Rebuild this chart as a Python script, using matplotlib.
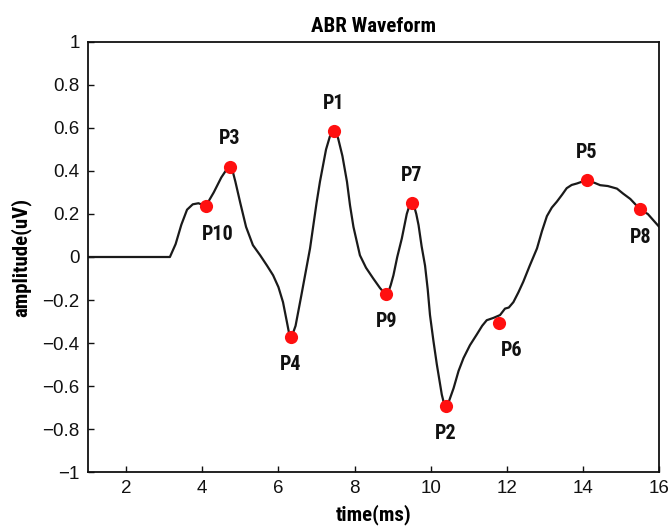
import matplotlib
matplotlib.use("Agg")
import matplotlib.pyplot as plt
from matplotlib import font_manager

# ABR waveform trace (time in ms, amplitude in uV)
time_ms = [1.0, 3.15, 3.3, 3.45, 3.6, 3.75, 3.9, 4.0, 4.09, 4.3, 4.5, 4.65, 4.73, 4.79,
           4.87, 5.0, 5.15, 5.33, 5.52, 5.7, 5.86, 6.0, 6.12, 6.22, 6.28, 6.32, 6.37,
           6.45, 6.6, 6.83, 7.0, 7.09, 7.25, 7.35, 7.42, 7.46, 7.51, 7.57, 7.68, 7.80,
           7.88, 7.97, 8.06, 8.14, 8.3, 8.49, 8.67, 8.76, 8.83, 8.89, 8.95, 9.02, 9.12,
           9.24, 9.37, 9.45, 9.50, 9.55, 9.62, 9.68, 9.76, 9.85, 9.92, 9.98, 10.07,
           10.16, 10.29, 10.35, 10.40, 10.45, 10.52, 10.6, 10.73, 10.86, 11.03, 11.21,
           11.35, 11.47, 11.65, 11.82, 11.95, 12.05, 12.17, 12.3, 12.43, 12.6, 12.79,
           12.92, 13.05, 13.18, 13.31, 13.45, 13.57, 13.7, 13.84, 14.0, 14.10, 14.3,
           14.45, 14.65, 14.89, 15.05, 15.24, 15.4, 15.5, 15.7, 15.85, 16.0]
amplitude_uv = [0.0, 0.0, 0.06, 0.15, 0.22, 0.245, 0.25, 0.243, 0.236, 0.30, 0.37,
                0.41, 0.42, 0.405, 0.35, 0.25, 0.14, 0.055, 0.008, -0.04, -0.085,
                -0.14, -0.21, -0.30, -0.355, -0.371, -0.36, -0.32, -0.18, 0.04, 0.25,
                0.35, 0.50, 0.56, 0.581, 0.585, 0.58, 0.55, 0.47, 0.35, 0.24, 0.14,
                0.07, 0.008, -0.05, -0.10, -0.145, -0.163, -0.17, -0.162, -0.13,
                -0.085, 0.0, 0.086, 0.20, 0.245, 0.252, 0.245, 0.20, 0.148, 0.05,
                -0.04, -0.15, -0.27, -0.39, -0.50, -0.64, -0.683, -0.694, -0.685,
                -0.65, -0.61, -0.53, -0.47, -0.41, -0.36, -0.32, -0.294, -0.283,
                -0.27, -0.24, -0.235, -0.21, -0.165, -0.115, -0.04, 0.04, 0.12, 0.19,
                0.23, 0.257, 0.29, 0.32, 0.335, 0.342, 0.352, 0.355, 0.345, 0.334,
                0.33, 0.318, 0.295, 0.27, 0.24, 0.22, 0.20, 0.17, 0.14]

# Detected peaks
peak_names = ["P1", "P2", "P3", "P4", "P5", "P6", "P7", "P8", "P9", "P10"]
peak_time = [7.46, 10.40, 4.73, 6.32, 14.10, 11.80, 9.50, 15.50, 8.83, 4.09]
peak_amp = [0.585, -0.694, 0.42, -0.371, 0.357, -0.306, 0.252, 0.221, -0.17, 0.236]
peak_above = [True, False, True, False, True, False, True, False, False, False]

x_ticks = [2, 4, 6, 8, 10, 12, 14, 16]
y_ticks = [-1, -0.8, -0.6, -0.4, -0.2, 0, 0.2, 0.4, 0.6, 0.8, 1]
y_tick_labels = ["\u22121", "\u22120.8", "\u22120.6", "\u22120.4", "\u22120.2", "0",
                 "0.2", "0.4", "0.6", "0.8", "1"]

installed = {f.name for f in font_manager.fontManager.ttflist}
narrow = ["Liberation Sans Narrow", "Roboto Condensed", "DejaVu Sans Condensed"]
narrow = [f for f in narrow if f in installed] + ["Liberation Sans", "DejaVu Sans"]
plt.rcParams["font.family"] = ["Liberation Sans", "DejaVu Sans"]

fig = plt.figure(figsize=(6.72, 5.30), dpi=100)
ax = fig.add_axes([0.131, 0.1094, 0.85, 0.8114])

ax.plot(time_ms, amplitude_uv, color="#1a1a1a", linewidth=1.6, zorder=2,
        solid_joinstyle="round")
ax.scatter(peak_time, peak_amp, s=90, color="#ff1010", zorder=3, linewidths=0)

for name, t, a, up in zip(peak_names, peak_time, peak_amp, peak_above):
    dx = 0
    if name in ("P10", "P6"):
        dx = 9
    dy = 20 if up else -20
    ax.annotate(name, (t, a), xytext=(dx, dy), textcoords="offset points",
                ha="center", va="center", fontsize=14.5, fontweight="bold",
                family=narrow, color="#111111")

ax.set_xlim(1, 16)
ax.set_ylim(-1, 1)
ax.set_xticks(x_ticks)
ax.set_yticks(y_ticks)
ax.set_yticklabels(y_tick_labels)
ax.tick_params(axis="both", direction="in", length=4, width=1, labelsize=13.5,
               colors="#111111", pad=6)
for sp in ax.spines.values():
    sp.set_linewidth(1.3)
    sp.set_color("#111111")

ax.set_title("ABR Waveform", fontsize=15, fontweight="bold", family=narrow, pad=7)
ax.set_xlabel("time(ms)", fontsize=15, fontweight="bold", family=narrow, labelpad=5)
ax.set_ylabel("amplitude(uV)", fontsize=15, fontweight="bold", family=narrow, labelpad=8)

fig.savefig("out.png", dpi=100)
